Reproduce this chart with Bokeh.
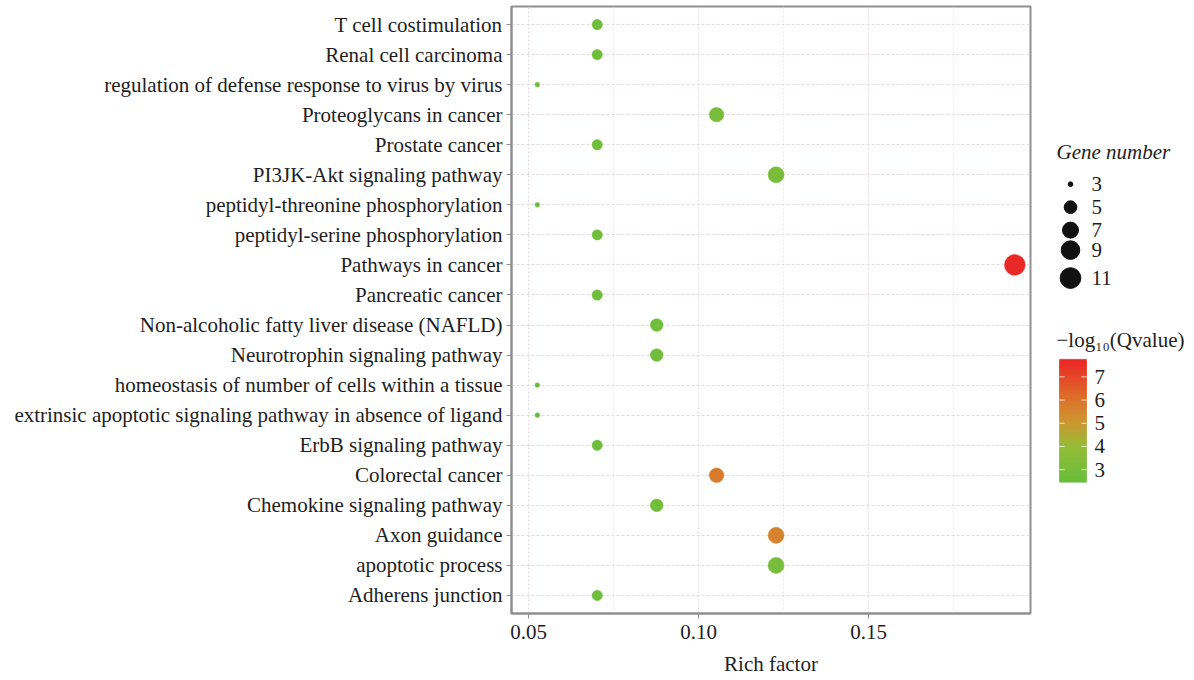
from bokeh.plotting import figure
from bokeh.models import (FactorRange, FixedTicker, LinearColorMapper,
                          ColumnDataSource, Range1d, Label)
from bokeh.layouts import row
from bokeh.embed import file_html
from bokeh.resources import INLINE
from bokeh.core.properties import value
import numpy as np

# ---------------- data ----------------
terms = [
    "T cell costimulation",
    "Renal cell carcinoma",
    "regulation of defense response to virus by virus",
    "Proteoglycans in cancer",
    "Prostate cancer",
    "PI3JK-Akt signaling pathway",
    "peptidyl-threonine phosphorylation",
    "peptidyl-serine phosphorylation",
    "Pathways in cancer",
    "Pancreatic cancer",
    "Non-alcoholic fatty liver disease (NAFLD)",
    "Neurotrophin signaling pathway",
    "homeostasis of number of cells within a tissue",
    "extrinsic apoptotic signaling pathway in absence of ligand",
    "ErbB signaling pathway",
    "Colorectal cancer",
    "Chemokine signaling pathway",
    "Axon guidance",
    "apoptotic process",
    "Adherens junction",
]
rich_factor = [0.0702, 0.0702, 0.0526, 0.1053, 0.0702, 0.1228, 0.0526, 0.0702,
               0.1930, 0.0702, 0.0877, 0.0877, 0.0526, 0.0526, 0.0702, 0.1053,
               0.0877, 0.1228, 0.1228, 0.0702]
gene_number = [4, 4, 3, 6, 4, 7, 3, 4, 11, 4, 5, 5, 3, 3, 4, 6, 5, 7, 7, 4]
neg_log_q = [2.7, 2.7, 2.6, 3.0, 2.7, 3.1, 2.6, 2.7, 7.7, 2.7, 2.8, 2.8, 2.6, 2.6,
             2.7, 5.9, 2.8, 5.6, 3.0, 2.7]

x_ticks = [0.05, 0.10, 0.15]
x_minor = [0.075, 0.125, 0.175]
legend_sizes = [3, 5, 7, 9, 11]
cbar_ticks = [3, 4, 5, 6, 7]
q_low, q_high = 2.48, 7.73

FONT = "Liberation Serif"
FS = "21px"
TXT = "#1e1e1e"

H = 678
TOP, BOTTOM = 6, 64          # frame spans page y 6 .. 614


def size_px(n):
    # ggplot-like area scale: size 1..6 over 3..11
    s = 1 + 5 * ((n - 3) / 8) ** 0.5
    return 3.2 * s + 1.5


def lerp(c1, c2, t):
    return tuple(int(round(a + (b - a) * t)) for a, b in zip(c1, c2))


stops = [(0.0, (104, 190, 60)), (0.3, (150, 188, 56)), (0.5, (205, 150, 50)),
         (0.7, (220, 112, 42)), (1.0, (234, 40, 38))]
palette = []
for i in range(256):
    t = i / 255
    for (t0, c0), (t1, c1) in zip(stops[:-1], stops[1:]):
        if t0 <= t <= t1:
            r, g, b = lerp(c0, c1, (t - t0) / (t1 - t0))
            palette.append("#%02x%02x%02x" % (r, g, b))
            break

mapper = LinearColorMapper(palette=palette, low=q_low, high=q_high)

src = ColumnDataSource(dict(term=terms, rf=rich_factor, gn=gene_number,
                            q=neg_log_q, sz=[size_px(n) for n in gene_number]))

# ---------------- main plot ----------------
p = figure(width=1038, height=H, output_backend="svg", toolbar_location=None,
           y_range=FactorRange(factors=terms[::-1], range_padding=0.01,
                               range_padding_units="percent"),
           x_range=Range1d(0.045, 0.1976),
           min_border_left=511, min_border_right=8, min_border_top=TOP,
           min_border_bottom=BOTTOM)
p.scatter(x="rf", y="term", size="sz", source=src,
          fill_color={"field": "q", "transform": mapper},
          line_color={"field": "q", "transform": mapper}, line_width=0.5)

p.outline_line_color = "#8f8f8f"
p.outline_line_width = 2
p.background_fill_color = "white"

p.xaxis.ticker = FixedTicker(ticks=x_ticks, minor_ticks=x_minor)
p.xaxis.major_label_overrides = {0.05: "0.05", 0.1: "0.10", 0.15: "0.15"}
p.xaxis.axis_label = "Rich factor"
for ax in (p.xaxis[0], p.yaxis[0]):
    ax.axis_line_color = "#8f8f8f"
    ax.axis_line_width = 2
    ax.major_tick_line_color = "#8f8f8f"
    ax.major_tick_in = 0
    ax.major_tick_out = 5
    ax.minor_tick_line_color = None
    ax.major_label_text_font = FONT
    ax.major_label_text_font_size = FS
    ax.major_label_text_color = TXT
    ax.axis_label_text_font = FONT
    ax.axis_label_text_font_size = FS
    ax.axis_label_text_font_style = "normal"
    ax.axis_label_text_color = TXT
p.yaxis.major_label_standoff = 4
p.xaxis.major_label_standoff = 6
p.xaxis.axis_label_standoff = 10

p.xgrid.grid_line_color = "#e2dade"
p.xgrid.grid_line_dash = "2 2"
p.xgrid.minor_grid_line_color = "#ebe6e8"
p.xgrid.minor_grid_line_dash = "2 2"
p.ygrid.grid_line_color = "#e2dade"
p.ygrid.grid_line_dash = "3 2"

# ---------------- legend panel (page-pixel coordinates) ----------------
lg = figure(width=156, height=H, output_backend="svg", toolbar_location=None,
            x_range=Range1d(0, 156), y_range=Range1d(H - BOTTOM, TOP),
            min_border_left=0, min_border_right=0, min_border_top=TOP,
            min_border_bottom=BOTTOM, outline_line_color=None)
lg.axis.visible = False
lg.grid.visible = False

lg.add_layout(Label(x=18, y=152, text="Gene number", text_font=FONT,
                    text_font_size=FS, text_font_style="italic",
                    text_color=TXT, text_baseline="middle"))
leg_y = [184, 207, 230, 250, 278]
lg.scatter(x=[32] * len(legend_sizes), y=leg_y,
           size=[size_px(n) for n in legend_sizes],
           fill_color="#111111", line_color="#111111")
lg.text(x=[53] * len(legend_sizes), y=leg_y,
        text=[str(n) for n in legend_sizes], text_font=value(FONT),
        text_font_size=FS, text_color=TXT, text_baseline="middle")

lg.add_layout(Label(x=18, y=340, text="\u2212log\u2081\u2080(Qvalue)", text_font=FONT,
                    text_font_size=FS, text_color=TXT,
                    text_baseline="middle"))

# colour bar drawn as a stack of rectangles coloured through the mapper
nbin = 61
edges = np.linspace(q_low, q_high, nbin + 1)
bar_top, bar_bot = 360, 482


def qy(q):
    return bar_bot - (q - q_low) / (q_high - q_low) * (bar_bot - bar_top)


mids = (edges[:-1] + edges[1:]) / 2
cb_src = ColumnDataSource(dict(q=mids, top=[qy(e) - 0.6 for e in edges[1:]],
                               bottom=[qy(e) + 0.6 for e in edges[:-1]]))
lg.quad(left=21, right=48, top="top", bottom="bottom",
        fill_color={"field": "q", "transform": mapper},
        line_color={"field": "q", "transform": mapper}, line_width=0.5,
        source=cb_src)
tick_y = [qy(t) for t in cbar_ticks]
lg.segment(x0=[21] * 5, x1=[26] * 5, y0=tick_y, y1=tick_y,
           line_color="white", line_width=1, line_alpha=0.8)
lg.segment(x0=[43] * 5, x1=[48] * 5, y0=tick_y, y1=tick_y,
           line_color="white", line_width=1, line_alpha=0.8)
lg.text(x=[56] * 5, y=tick_y, text=[str(t) for t in cbar_ticks],
        text_font=value(FONT), text_font_size=FS, text_color=TXT,
        text_baseline="middle")

layout = row(p, lg)
open("out.html", "w").write(file_html(layout, INLINE))
